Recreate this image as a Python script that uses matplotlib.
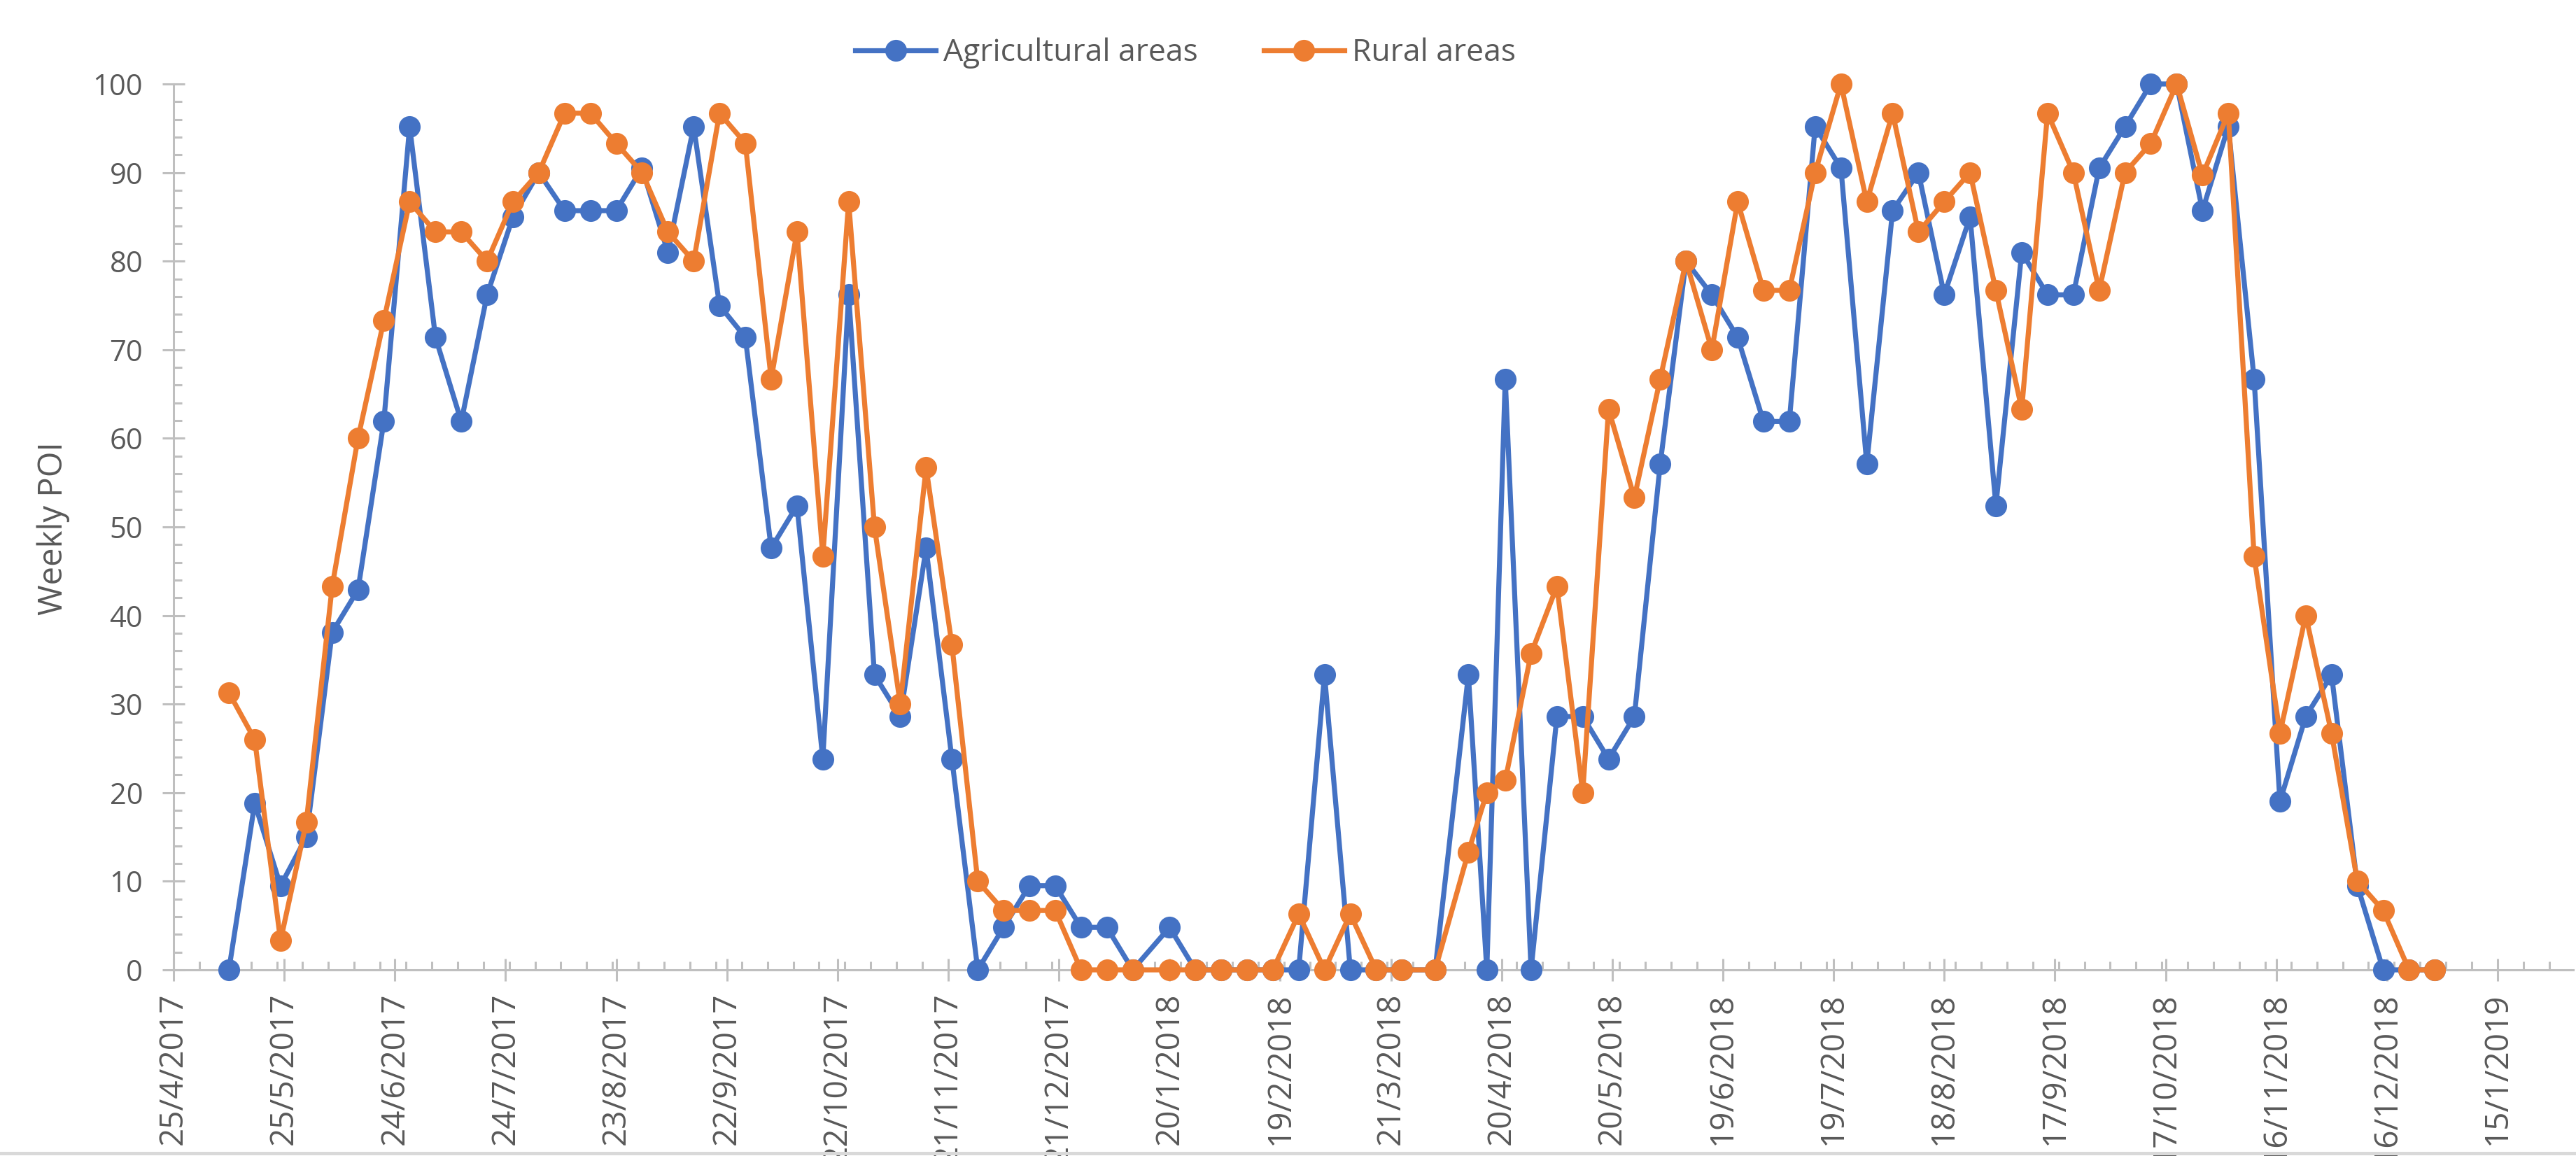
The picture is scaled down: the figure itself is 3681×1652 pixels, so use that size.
import matplotlib
matplotlib.use("Agg")
import matplotlib.pyplot as plt
import matplotlib.dates as mdates
from matplotlib.lines import Line2D
import pandas as pd
import numpy as np

plt.rcParams['font.family'] = ['Open Sans', 'DejaVu Sans']

# ---------------- data ----------------
dates = [
    "2017-05-10", "2017-05-17", "2017-05-24", "2017-05-31", "2017-06-07", "2017-06-14",
    "2017-06-21", "2017-06-28", "2017-07-05", "2017-07-12", "2017-07-19", "2017-07-26",
    "2017-08-02", "2017-08-09", "2017-08-16", "2017-08-23", "2017-08-30", "2017-09-06",
    "2017-09-13", "2017-09-20", "2017-09-27", "2017-10-04", "2017-10-11", "2017-10-18",
    "2017-10-25", "2017-11-01", "2017-11-08", "2017-11-15", "2017-11-22", "2017-11-29",
    "2017-12-06", "2017-12-13", "2017-12-20", "2017-12-27", "2018-01-03", "2018-01-10",
    "2018-01-20", "2018-01-27", "2018-02-03", "2018-02-10", "2018-02-17", "2018-02-24",
    "2018-03-03", "2018-03-10", "2018-03-17", "2018-03-24", "2018-04-02", "2018-04-11",
    "2018-04-16", "2018-04-21", "2018-04-28", "2018-05-05", "2018-05-12", "2018-05-19",
    "2018-05-26", "2018-06-02", "2018-06-09", "2018-06-16", "2018-06-23", "2018-06-30",
    "2018-07-07", "2018-07-14", "2018-07-21", "2018-07-28", "2018-08-04", "2018-08-11",
    "2018-08-18", "2018-08-25", "2018-09-01", "2018-09-08", "2018-09-15", "2018-09-22",
    "2018-09-29", "2018-10-06", "2018-10-13", "2018-10-20", "2018-10-27", "2018-11-03",
    "2018-11-10", "2018-11-17", "2018-11-24", "2018-12-01", "2018-12-08", "2018-12-15",
    "2018-12-22", "2018-12-29",
]

agricultural = [
    0.0, 18.8, 9.5, 15.0, 38.1, 42.9, 61.9, 95.2, 71.4, 61.9, 76.2, 85.0,
    90.0, 85.7, 85.7, 85.7, 90.5, 81.0, 95.2, 75.0, 71.4, 47.6, 52.4, 23.8,
    76.2, 33.3, 28.6, 47.6, 23.8, 0.0, 4.8, 9.5, 9.5, 4.8, 4.8, 0.0,
    4.8, 0.0, 0.0, 0.0, 0.0, 0.0, 33.3, 0.0, 0.0, 0.0, 0.0, 33.3,
    0.0, 66.7, 0.0, 28.6, 28.6, 23.8, 28.6, 57.1, 80.0, 76.2, 71.4, 61.9,
    61.9, 95.2, 90.5, 57.1, 85.7, 90.0, 76.2, 85.0, 52.4, 81.0, 76.2, 76.2,
    90.5, 95.2, 100.0, 100.0, 85.7, 95.2, 66.7, 19.0, 28.6, 33.3, 9.5, 0.0,
    0.0, 0.0,
]

rural = [
    31.3, 26.0, 3.3, 16.7, 43.3, 60.0, 73.3, 86.7, 83.3, 83.3, 80.0, 86.7,
    90.0, 96.7, 96.7, 93.3, 90.0, 83.3, 80.0, 96.7, 93.3, 66.7, 83.3, 46.7,
    86.7, 50.0, 30.0, 56.7, 36.7, 10.0, 6.7, 6.7, 6.7, 0.0, 0.0, 0.0,
    0.0, 0.0, 0.0, 0.0, 0.0, 6.3, 0.0, 6.3, 0.0, 0.0, 0.0, 13.3,
    20.0, 21.4, 35.7, 43.3, 20.0, 63.3, 53.3, 66.7, 80.0, 70.0, 86.7, 76.7,
    76.7, 90.0, 100.0, 86.7, 96.7, 83.3, 86.7, 90.0, 76.7, 63.3, 96.7, 90.0,
    76.7, 90.0, 93.3, 100.0, 89.7, 96.7, 46.7, 26.7, 40.0, 26.7, 10.0, 6.7,
    0.0, 0.0,
]

series_names = ["Agricultural areas", "Rural areas"]

tick_labels = [
    "25/4/2017", "25/5/2017", "24/6/2017", "24/7/2017", "23/8/2017", "22/9/2017",
    "22/10/2017", "21/11/2017", "21/12/2017", "20/1/2018", "19/2/2018", "21/3/2018",
    "20/4/2018", "20/5/2018", "19/6/2018", "19/7/2018", "18/8/2018", "17/9/2018",
    "17/10/2018", "16/11/2018", "16/12/2018", "15/1/2019",
]
y_ticks = [0, 10, 20, 30, 40, 50, 60, 70, 80, 90, 100]
y_label = "Weekly POI"

# ---------------- style ----------------
BLUE = "#4472C4"
ORANGE = "#ED7D31"
AXIS = "#BFBFBF"
TEXT = "#595959"

W, H, DPI = 3681, 1652, 200
fig = plt.figure(figsize=(W / DPI, H / DPI), dpi=DPI)
ax = fig.add_axes([248 / W, 1 - 1386 / H, (3677 - 248) / W, (1386 - 120) / H])

x = pd.to_datetime(dates)
tick_pos = pd.to_datetime(tick_labels, format="%d/%m/%Y")

ax.plot(x, agricultural, color=BLUE, lw=2.6, marker="o", ms=11.2, mec=BLUE,
        mew=0, label=series_names[0], clip_on=False, zorder=3)
ax.plot(x, rural, color=ORANGE, lw=2.6, marker="o", ms=11.2, mec=ORANGE,
        mew=0, label=series_names[1], clip_on=False, zorder=4)

x_start = tick_pos[0]
x_end = x_start + pd.Timedelta(days=650.5)
ax.set_xlim(x_start, x_end)
ax.set_ylim(0, 100)

ax.set_xticks(tick_pos)
ax.set_xticklabels(tick_labels, rotation=90, ha="center", va="top")
minor_x = pd.date_range(x_start, x_end, freq="7D")
ax.set_xticks(minor_x, minor=True)

ax.set_yticks(y_ticks)
ax.set_yticks(np.arange(0, 101, 2), minor=True)

for s in ["top", "right"]:
    ax.spines[s].set_visible(False)
for s in ["left", "bottom"]:
    ax.spines[s].set_color(AXIS)
    ax.spines[s].set_linewidth(1.1)

ax.tick_params(axis="both", which="major", direction="inout", length=11.5,
               width=1.1, color=AXIS, labelcolor=TEXT)
ax.tick_params(axis="both", which="minor", direction="in", length=4.4,
               width=1.1, color=AXIS)
ax.tick_params(axis="x", which="major", labelsize=16.5, pad=6)
ax.tick_params(axis="y", which="major", labelsize=15, pad=10)

fig.text(76 / W, 1 - 755 / H, y_label, rotation=90, ha="center", va="center",
         fontsize=17, color=TEXT)

leg = fig.legend(loc="center", bbox_to_anchor=(1694 / W, 1 - 76 / H), ncol=2,
                 frameon=False, fontsize=16, handlelength=2.6, handletextpad=0.25,
                 columnspacing=2.1, labelcolor=TEXT)

fig.add_artist(Line2D([0, 1], [1 - 1648 / H, 1 - 1648 / H], transform=fig.transFigure,
                      color="#D9D9D9", lw=1.8))

fig.savefig("out.png", dpi=DPI)
